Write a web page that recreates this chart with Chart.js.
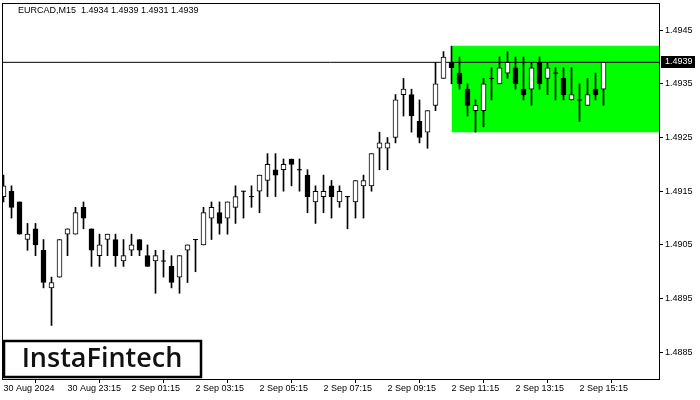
<!DOCTYPE html>
<html>
<head>
<meta charset="utf-8">
<script src="https://cdn.jsdelivr.net/npm/chart.js@4.4.1/dist/chart.umd.min.js"></script>
<style>
  html, body { margin: 0; padding: 0; background: #fff; }
  canvas { display: block; }
</style>
</head>
<body>
<canvas id="c" width="700" height="400"></canvas>
<script>
/* EURCAD M15 with the flat range zone */
const symbol = 'EURCAD,M15';
const opens = [
  1.4914, 1.4915, 1.4913, 1.4906, 1.4908, 1.4904, 1.4897, 1.4899, 1.4907, 1.4907,
  1.4912, 1.4908, 1.4903, 1.4906, 1.4906, 1.4902, 1.4904, 1.4906, 1.4903, 1.4902,
  1.4902, 1.4901, 1.4899, 1.4904, 1.4906, 1.4905, 1.4910, 1.4911, 1.4910, 1.4912,
  1.4915, 1.4914, 1.4915, 1.4917, 1.4919, 1.4919, 1.4921, 1.4919, 1.4918, 1.4913,
  1.4914, 1.4916, 1.4913, 1.4914, 1.4913, 1.4916, 1.4916, 1.4923, 1.4923, 1.4925,
  1.4933, 1.4933, 1.4928, 1.4926, 1.4931, 1.4936, 1.4939, 1.4937, 1.4934, 1.4930,
  1.4930, 1.4936, 1.4935, 1.4937, 1.4938, 1.4934, 1.4934, 1.4939, 1.4936, 1.4937,
  1.4936, 1.4932, 1.4932, 1.4931, 1.4934, 1.4934
];
const highs = [
  1.4918, 1.4916, 1.4913, 1.4909, 1.4909, 1.4906, 1.4899, 1.4906, 1.4908, 1.4912,
  1.4913, 1.4908, 1.4907, 1.4907, 1.4907, 1.4906, 1.4907, 1.4906, 1.4905, 1.4904,
  1.4904, 1.4903, 1.4903, 1.4905, 1.4906, 1.4912, 1.4913, 1.4913, 1.4913, 1.4916,
  1.4915, 1.4916, 1.4918, 1.4922, 1.4922, 1.4921, 1.4921, 1.4921, 1.4919, 1.4916,
  1.4918, 1.4917, 1.4916, 1.4914, 1.4917, 1.4918, 1.4922, 1.4926, 1.4925, 1.4933,
  1.4936, 1.4934, 1.4932, 1.4930, 1.4939, 1.4941, 1.4942, 1.4940, 1.4935, 1.4932,
  1.4936, 1.4938, 1.4940, 1.4941, 1.4940, 1.4940, 1.4939, 1.4940, 1.4939, 1.4938,
  1.4938, 1.4938, 1.4935, 1.4936, 1.4937, 1.4939
];
const lows = [
  1.4913, 1.4910, 1.4907, 1.4904, 1.4903, 1.4897, 1.4890, 1.4899, 1.4903, 1.4907,
  1.4908, 1.4901, 1.4901, 1.4903, 1.4901, 1.4901, 1.4903, 1.4903, 1.4901, 1.4896,
  1.4899, 1.4897, 1.4896, 1.4898, 1.4900, 1.4905, 1.4906, 1.4907, 1.4907, 1.4909,
  1.4910, 1.4912, 1.4911, 1.4914, 1.4914, 1.4915, 1.4916, 1.4915, 1.4911, 1.4909,
  1.4911, 1.4910, 1.4912, 1.4908, 1.4910, 1.4910, 1.4915, 1.4919, 1.4919, 1.4924,
  1.4929, 1.4926, 1.4924, 1.4923, 1.4930, 1.4936, 1.4935, 1.4934, 1.4929, 1.4926,
  1.4927, 1.4932, 1.4935, 1.4936, 1.4934, 1.4932, 1.4931, 1.4934, 1.4933, 1.4932,
  1.4932, 1.4932, 1.4928, 1.4931, 1.4932, 1.4931
];
const closes = [
  1.4916, 1.4912, 1.4907, 1.4907, 1.4905, 1.4898, 1.4898, 1.4906, 1.4908, 1.4911,
  1.4910, 1.4904, 1.4905, 1.4907, 1.4903, 1.4903, 1.4905, 1.4904, 1.4901, 1.4903,
  1.4902, 1.4898, 1.4903, 1.4905, 1.4906, 1.4911, 1.4912, 1.4909, 1.4913, 1.4914,
  1.4915, 1.4914, 1.4918, 1.4920, 1.4918, 1.4920, 1.4920, 1.4919, 1.4914, 1.4915,
  1.4915, 1.4914, 1.4915, 1.4914, 1.4917, 1.4917, 1.4922, 1.4924, 1.4924, 1.4932,
  1.4934, 1.4929, 1.4925, 1.4930, 1.4935, 1.4940, 1.4938, 1.4935, 1.4931, 1.4931,
  1.4935, 1.4936, 1.4938, 1.4939, 1.4935, 1.4933, 1.4938, 1.4935, 1.4938, 1.4937,
  1.4933, 1.4933, 1.4932, 1.4933, 1.4933, 1.4939
];
const xTickIdx = [0, 8, 16, 24, 32, 40, 48, 56, 64, 72];
const xTickLabels = ['30 Aug 2024', '30 Aug 23:15', '2 Sep 01:15', '2 Sep 03:15', '2 Sep 05:15',
  '2 Sep 07:15', '2 Sep 09:15', '2 Sep 11:15', '2 Sep 13:15', '2 Sep 15:15'];
const yTicks = [1.4885, 1.4895, 1.4905, 1.4915, 1.4925, 1.4935, 1.4945];
const zoneStart = 56;
const zoneTop = 1.4942, zoneBottom = 1.4926;

const X_MIN = -0.1875, X_MAX = 81.9375;
const Y_MIN = 1.488003, Y_MAX = 1.495005;
const FONT = '9px "Liberation Sans", Arial, sans-serif';

const last = closes.length - 1;
const idx = closes.map((_, i) => i);
const wicks = idx.map(i => ({ x: i, y: [lows[i], highs[i]] }));
const bodies = idx.filter(i => opens[i] !== closes[i])
  .map(i => ({ x: i, y: [Math.min(opens[i], closes[i]), Math.max(opens[i], closes[i])], up: closes[i] > opens[i] }));
const dojis = idx.filter(i => opens[i] === closes[i]).map(i => ({ x: i, y: opens[i] }));

// no auto padding for the tick labels, the plot box is fixed
const noPad = s => { s.paddingLeft = s.paddingRight = s.paddingTop = s.paddingBottom = 0; };

// frame, header text, price tag, logo
const overlay = {
  id: 'overlay',
  afterDraw(c) {
    const { ctx, chartArea: a } = c;
    ctx.save();
    ctx.strokeStyle = '#000'; ctx.lineWidth = 1;
    ctx.strokeRect(a.left + 0.5, a.top + 0.5, a.right - a.left, a.bottom - a.top);

    ctx.font = FONT; ctx.fillStyle = '#000'; ctx.textBaseline = 'middle'; ctx.textAlign = 'left';
    const f = v => v.toFixed(4);
    ctx.fillText(symbol + '  ' + f(opens[last]) + ' ' + f(highs[last]) + ' ' + f(lows[last]) + ' ' + f(closes[last]), 18, 11);

    const py = Math.round(c.scales.y.getPixelForValue(closes[last]));
    ctx.fillRect(a.right + 2, py - 6, 34, 12);
    ctx.fillStyle = '#fff';
    ctx.fillText(f(closes[last]), a.right + 6, py);

    ctx.fillStyle = '#fff';
    ctx.fillRect(4, 341, 197, 36);
    ctx.strokeStyle = '#000'; ctx.lineWidth = 2.5;
    ctx.strokeRect(4, 341, 197, 36);
    ctx.fillStyle = '#111';
    ctx.font = '600 27px "Open Sans", sans-serif';
    ctx.textAlign = 'center';
    ctx.fillText('InstaFintech', 102, 359);
    ctx.restore();
  }
};

new Chart(document.getElementById('c'), {
  type: 'bar',
  data: {
    datasets: [
      { type: 'line', data: dojis, showLine: false, pointStyle: 'line', pointRadius: 2.5, pointBorderColor: '#000', pointBorderWidth: 1, order: 0 },
      { data: bodies, barThickness: 5, grouped: false, borderWidth: 1, borderColor: '#000', borderSkipped: false,
        backgroundColor: ctx => (ctx.raw && ctx.raw.up) ? '#fff' : '#000', order: 1 },
      { data: wicks, barThickness: 1, grouped: false, borderWidth: 0, backgroundColor: '#000', order: 2 },
      { type: 'line', data: [{ x: X_MIN, y: closes[last] }, { x: X_MAX, y: closes[last] }],
        borderColor: '#000', borderWidth: 1, pointRadius: 0, order: 3 },
      { type: 'line', data: [{ x: zoneStart, y: zoneTop }, { x: X_MAX, y: zoneTop }],
        fill: { value: zoneBottom }, backgroundColor: '#00ff00', borderColor: '#00ff00', borderWidth: 1, pointRadius: 0, order: 4 },
    ]
  },
  options: {
    responsive: false, animation: false,
    layout: { autoPadding: false, padding: { left: 2, top: 3, right: 0, bottom: 0 } },
    plugins: { legend: { display: false }, tooltip: { enabled: false } },
    scales: {
      x: {
        type: 'linear', min: X_MIN, max: X_MAX, offset: false,
        afterBuildTicks: s => { s.ticks = xTickIdx.map(v => ({ value: v })); },
        afterFit: s => { s.height = 21; noPad(s); },
        grid: { drawOnChartArea: false, tickLength: 4, color: '#000' },
        border: { display: false },
        ticks: { autoSkip: false, maxRotation: 0, align: 'start', padding: 0, color: '#000', font: { family: '"Liberation Sans", Arial', size: 9 },
          callback: (v, i) => xTickLabels[i] },
      },
      y: {
        position: 'right', min: Y_MIN, max: Y_MAX,
        afterBuildTicks: s => { s.ticks = yTicks.map(v => ({ value: v })); },
        afterFit: s => { s.width = 41; noPad(s); },
        grid: { drawOnChartArea: false, tickLength: 4, color: '#000' },
        border: { display: false },
        ticks: { padding: 2, color: '#000', font: { family: '"Liberation Sans", Arial', size: 9 },
          callback: v => v.toFixed(4) },
      }
    }
  },
  plugins: [overlay]
});
</script>
</body>
</html>
